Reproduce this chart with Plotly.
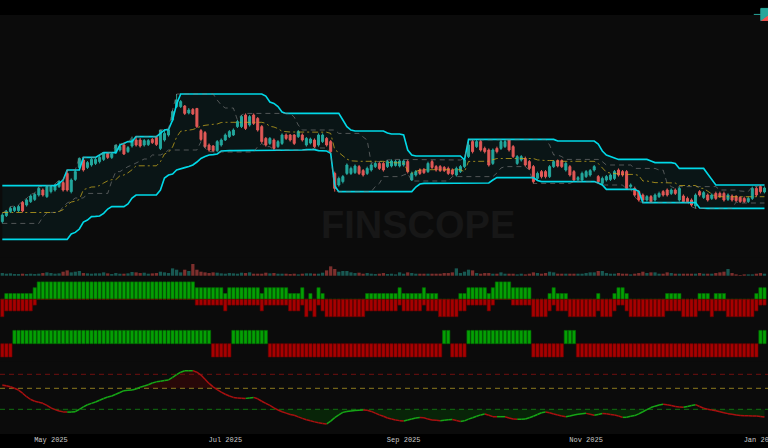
import pandas as pd
import plotly.graph_objects as go
from plotly.subplots import make_subplots

# ---------------- data ----------------
dates = [d.strftime("%Y-%m-%d") for d in pd.bdate_range("2025-04-15", periods=189)]

opens = [109.2,112.2,114.2,114.7,114.7,118.8,117.5,119.2,120.3,122.5,
         125.0,121.7,124.2,125.0,126.7,128.7,133.3,124.2,130.3,136.3,
         140.0,136.3,137.5,138.3,139.2,140.3,143.3,141.3,143.7,145.0,
         147.5,144.2,147.0,150.0,150.0,147.5,147.7,150.3,151.3,145.8,
         150.0,152.5,160.0,166.7,166.7,167.0,163.5,165.3,165.8,154.7,153.7,
         147.5,147.0,144.7,147.5,150.0,151.7,152.5,156.7,156.7,162.5,
         157.5,162.5,160.8,156.7,150.8,148.3,150.0,146.7,148.3,152.5,
         152.5,152.5,151.7,152.5,147.5,148.5,150.0,147.5,149.2,150.8,
         149.2,133.3,127.5,129.2,133.3,133.3,133.7,136.7,134.7,133.3,
         135.0,136.7,138.3,138.3,136.7,137.0,137.3,137.0,137.5,139.2,
         130.0,132.5,135.0,135.3,134.2,139.2,136.7,136.7,136.3,135.8,
         135.0,132.5,134.2,136.7,141.7,149.2,146.7,149.2,145.8,145.0,
         138.3,145.8,145.8,146.7,150.0,146.7,138.3,140.0,140.8,139.2,
         136.7,130.8,134.2,134.2,131.7,136.7,139.7,139.7,135.0,136.7,
         134.2,130.2,130.0,131.7,132.5,135.0,131.7,128.3,130.0,130.3,130.8,
         135.0,134.2,134.2,126.7,125.8,124.2,122.5,120.0,121.7,120.0,
         121.7,124.2,125.0,123.3,125.0,120.0,122.0,120.8,120.0,117.0,
         124.2,121.3,122.5,120.8,123.3,123.3,123.3,120.3,122.0,121.7,
         121.3,120.8,119.2,120.8,125.8,126.7,124.0]

closes = [112.5,114.2,115.8,116.2,116.7,114.5,120.0,122.0,122.8,125.8,
          122.5,126.7,126.7,127.5,129.2,125.0,125.0,130.0,134.2,140.8,
          135.0,138.7,140.3,140.3,141.3,143.7,141.3,143.0,147.5,146.7,
          143.0,146.2,150.0,147.5,147.0,149.7,149.7,148.7,147.8,155.0,
          153.3,155.0,164.2,170.0,169.2,163.3,165.0,163.0,156.7,150.3,146.7,
          145.0,144.7,149.2,150.0,152.5,154.2,155.0,159.2,161.7,155.8,
          161.7,158.3,155.0,149.2,147.5,150.8,145.8,149.2,152.5,150.8,
          150.0,148.3,154.2,150.0,150.8,150.5,146.7,152.5,152.5,147.5,
          144.2,125.8,130.8,131.7,137.5,135.8,137.0,133.3,132.5,135.8,
          137.5,138.3,135.8,135.0,139.2,139.5,139.3,139.5,139.5,134.2,
          133.3,134.2,133.3,133.7,138.3,136.3,135.0,134.7,134.7,133.3,
          133.0,135.8,136.7,140.0,147.5,144.2,149.2,145.0,144.2,137.5,
          145.0,144.2,149.2,149.2,145.0,141.7,141.7,141.7,137.5,135.8,
          129.2,133.3,131.7,131.7,136.7,139.2,137.0,136.7,138.3,132.5,
          130.0,131.2,133.3,134.2,134.7,136.7,129.2,130.8,131.7,132.5,134.2,
          132.5,132.5,125.8,127.5,122.5,120.0,120.0,121.7,119.2,122.5,
          123.3,122.5,122.5,125.0,123.3,125.8,119.2,119.2,117.5,122.5,
          122.5,123.7,120.0,122.5,120.8,121.7,120.0,122.5,120.0,119.7,
          119.2,119.2,120.8,125.8,122.5,124.2,126.0]

highs = [113.3,115.0,116.7,117.0,117.5,119.5,120.8,122.8,123.5,126.7,
         125.8,127.2,127.2,128.0,130.0,129.5,135.0,130.8,135.0,141.3,
         141.3,139.5,141.0,141.0,142.5,143.7,143.7,143.7,147.5,148.3,
         148.3,147.0,151.7,151.7,151.0,150.5,150.5,151.0,151.7,155.0,
         155.3,155.5,165.0,173.0,170.0,167.5,166.0,166.0,166.0,155.5,154.5,
         148.3,147.5,150.0,150.8,153.3,155.0,155.8,160.0,162.5,163.3,
         162.5,163.3,161.5,157.5,151.5,151.5,150.8,150.0,153.3,153.3,
         153.0,153.0,155.0,153.3,151.5,151.2,150.8,153.3,153.3,151.5,
         150.0,134.2,131.7,132.5,138.3,136.7,137.8,137.5,135.5,136.7,
         138.3,139.2,139.2,139.2,140.0,140.3,140.0,140.3,140.3,140.0,
         134.2,135.0,135.8,136.0,139.2,140.0,137.5,137.5,137.0,136.7,
         135.8,136.7,137.5,140.8,150.0,150.0,150.0,150.0,146.7,145.8,
         145.8,146.7,150.0,150.0,150.3,147.5,142.5,142.5,141.7,140.0,
         137.5,134.2,135.0,135.0,137.5,140.0,140.3,140.3,139.2,137.5,
         135.0,132.0,134.2,135.0,135.5,137.5,132.5,131.7,132.5,133.3,135.0,
         135.8,135.0,135.0,128.3,126.7,125.0,123.3,122.5,122.5,123.3,
         124.2,125.0,125.8,125.8,125.8,126.7,122.8,121.7,120.8,123.3,
         125.0,124.5,123.3,123.3,124.2,124.2,124.2,123.3,122.8,122.5,
         122.0,121.7,121.7,126.7,126.7,127.5,126.8]

lows = [108.3,111.5,113.5,114.0,114.0,113.8,116.7,118.5,119.5,121.7,
        121.7,121.0,123.3,124.2,126.0,124.2,124.2,123.3,129.5,135.5,
        134.2,135.5,136.7,137.5,138.3,139.5,140.5,140.5,143.0,144.2,
        142.5,143.5,146.2,146.7,146.2,146.7,147.0,148.0,147.0,145.0,
        149.2,151.7,159.2,166.0,166.0,162.5,162.8,162.5,156.0,149.5,146.0,
        144.2,144.0,144.0,146.7,149.5,151.0,152.0,156.0,156.0,155.0,
        156.7,157.5,154.2,148.3,146.7,147.5,145.0,146.0,147.5,150.0,
        149.2,147.5,151.0,149.2,146.7,147.8,146.0,146.7,148.5,146.7,
        143.5,124.2,126.7,128.3,132.5,132.5,133.0,132.5,131.7,132.5,
        134.2,136.0,135.0,134.2,136.0,136.3,136.7,136.3,136.7,133.3,
        129.5,131.7,132.5,133.0,133.5,135.5,134.2,134.0,134.0,132.5,
        132.3,131.7,133.5,136.0,141.0,143.3,146.0,144.2,143.3,136.7,
        137.5,143.3,145.0,146.0,144.2,141.0,137.5,139.2,136.7,135.0,
        128.3,130.0,130.8,130.8,131.0,136.0,136.3,136.0,134.2,131.7,
        129.2,129.5,129.2,131.0,131.7,134.2,128.3,127.5,129.2,129.5,130.0,
        131.7,131.7,125.3,125.8,121.7,119.2,118.8,119.2,118.7,119.2,
        121.0,121.7,121.7,122.5,122.5,119.2,118.7,118.7,116.7,115.8,
        121.7,120.5,119.2,120.0,120.0,121.0,119.2,119.5,119.2,119.0,
        118.5,118.5,118.5,120.0,121.7,123.3,123.3]

volumes = [8,6,7,5,5,6,5,6,5,6,
           8,10,8,6,7,12,16,10,12,14,
           8,7,6,7,7,10,7,5,8,6,
           6,7,11,10,8,9,6,7,8,12,
           10,8,22,18,10,18,14,35,18,12,10,
           8,10,9,7,6,8,7,6,9,8,
           10,6,6,6,9,7,8,6,6,6,
           5,6,4,6,7,7,6,6,9,16,
           28,20,12,14,14,10,8,9,6,8,
           6,5,6,8,5,6,4,10,6,10,
           8,6,6,6,6,6,6,6,8,8,
           10,22,8,12,18,16,8,6,8,8,
           6,6,10,6,6,6,4,6,4,6,
           10,8,6,8,12,10,6,6,6,6,
           6,6,6,8,10,10,14,14,8,6,6,
           8,6,6,4,6,8,12,8,10,10,
           6,6,10,8,6,6,6,6,6,6,
           8,6,6,6,8,10,12,20,8,4,
           2,4,4,4,6,8,6]

channel_upper = [127.2,127.2,127.2,127.2,127.2,127.2,127.2,127.2,127.2,127.2,
                 127.2,127.2,127.2,127.2,128.3,130.0,135.0,135.0,135.0,135.0,
                 141.3,141.3,141.3,141.3,142.5,143.7,143.7,143.7,143.7,147.5,
                 148.3,149.2,149.2,151.7,151.7,151.7,151.7,151.7,151.7,153.3,
                 155.0,155.3,160.0,168.0,173.0,173.0,173.0,173.0,173.0,173.0,173.0,
                 173.0,173.0,173.0,173.0,173.0,173.0,173.0,173.0,173.0,173.0,
                 173.0,173.0,173.0,173.0,172.0,169.0,168.3,166.7,164.0,163.3,
                 163.3,163.3,163.3,163.3,163.3,163.3,163.3,163.3,163.3,163.3,
                 163.3,163.3,163.3,160.0,156.7,155.0,154.5,154.5,154.5,154.5,
                 154.5,154.5,154.5,154.5,153.5,153.0,153.0,153.0,152.5,145.0,
                 142.5,142.0,142.0,142.0,142.0,142.0,142.0,142.0,142.0,142.0,
                 142.0,142.0,142.0,140.0,150.3,150.3,150.3,150.3,150.3,150.3,
                 150.3,150.3,150.3,150.3,150.3,150.3,150.3,150.3,150.3,150.3,
                 150.3,150.3,150.3,150.3,150.3,150.3,149.5,149.5,149.5,149.5,
                 149.5,149.5,149.5,149.5,149.5,149.5,148.0,144.5,142.5,141.7,141.0,
                 140.3,140.3,140.3,140.3,140.3,140.3,140.3,140.3,139.5,138.7,
                 138.7,138.7,138.7,138.7,138.3,135.8,135.8,135.8,135.8,135.8,
                 135.8,135.8,133.0,130.5,127.5,127.5,127.5,127.5,127.5,127.5,
                 127.5,127.5,127.5,127.5,127.5,127.5,127.5]

channel_lower = [100.3,100.3,100.3,100.3,100.3,100.3,100.3,100.3,100.3,100.3,
                 100.3,100.3,100.3,100.3,100.3,100.3,100.3,103.0,103.8,105.5,
                 109.0,110.0,111.7,111.8,112.0,113.3,115.5,116.7,116.7,116.7,
                 116.7,118.0,121.0,122.5,122.5,122.5,122.5,122.5,122.5,125.0,
                 131.0,132.5,133.0,135.0,135.8,136.2,136.8,137.5,139.0,140.8,141.7,
                 142.5,142.7,143.0,144.5,144.7,144.7,144.7,144.7,144.7,144.7,
                 144.7,144.7,144.7,144.7,144.7,144.7,144.7,144.7,144.7,144.7,
                 144.7,144.7,144.7,145.0,145.2,145.2,145.2,144.7,144.5,144.5,
                 143.3,127.0,124.2,124.2,124.2,124.2,124.2,124.2,124.2,124.2,
                 124.2,124.2,124.2,124.2,124.2,124.2,124.2,124.2,124.2,124.2,
                 124.2,126.5,128.0,128.3,128.3,128.3,128.3,128.3,128.3,128.3,
                 128.3,128.3,128.3,128.3,128.3,128.3,128.3,128.3,128.3,128.5,
                 130.0,131.2,131.2,131.2,131.2,131.2,131.2,131.2,131.2,131.2,
                 131.2,129.8,129.2,129.2,129.2,129.2,129.2,129.2,129.2,129.2,
                 129.2,129.2,129.2,129.2,129.2,129.2,128.5,127.5,125.3,125.3,125.3,
                 125.3,125.3,125.3,125.3,125.3,124.2,118.7,118.7,118.7,118.7,
                 118.7,118.7,118.7,118.7,118.7,118.7,118.7,118.7,118.7,118.7,
                 116.0,115.8,115.8,115.8,115.8,115.8,115.8,115.8,115.8,115.8,
                 115.8,115.8,115.8,115.8,115.8,115.8,115.8]

bull_count = [0,1,1,1,1,1,1,1,2,3,
              3,3,3,3,3,3,3,3,3,3,
              3,3,3,3,3,3,3,3,3,3,
              3,3,3,3,3,3,3,3,3,3,
              3,3,3,3,3,3,3,3,2,2,2,
              2,2,2,2,1,2,2,2,2,2,
              2,2,2,1,2,2,2,2,2,2,
              1,1,1,2,0,1,0,2,1,0,
              0,0,0,0,0,0,0,0,0,1,
              1,1,1,1,1,1,1,2,1,1,
              1,1,1,2,1,1,1,0,0,0,
              0,0,1,1,2,2,2,2,2,1,
              2,3,3,3,3,2,2,2,2,2,
              0,0,0,0,1,2,1,1,1,0,
              0,0,0,0,0,0,1,0,0,0,1,
              2,2,1,0,0,0,0,0,0,0,
              0,0,1,1,1,1,0,0,0,0,
              1,1,1,0,1,1,1,0,0,0,
              0,0,0,0,1,2,2]

trend_state = [-1,-1,-1,1,1,1,1,1,1,1,
               1,1,1,1,1,1,1,1,1,1,
               1,1,1,1,1,1,1,1,1,1,
               1,1,1,1,1,1,1,1,1,1,
               1,1,1,1,1,1,1,1,1,1,1,
               1,-1,-1,-1,-1,-1,1,1,1,1,
               1,1,1,1,1,-1,-1,-1,-1,-1,
               -1,-1,-1,-1,-1,-1,-1,-1,-1,-1,
               -1,-1,-1,-1,-1,-1,-1,-1,-1,-1,
               -1,-1,-1,-1,-1,-1,-1,-1,-1,-1,
               -1,-1,-1,-1,-1,-1,-1,-1,1,1,
               -1,-1,-1,-1,1,1,1,1,1,1,
               1,1,1,1,1,1,1,1,1,1,
               -1,-1,-1,-1,-1,-1,-1,-1,1,1,
               1,-1,-1,-1,-1,-1,-1,-1,-1,-1,-1,
               -1,-1,-1,-1,-1,-1,-1,-1,-1,-1,
               -1,-1,-1,-1,-1,-1,-1,-1,-1,-1,
               -1,-1,-1,-1,-1,-1,-1,-1,-1,-1,
               -1,-1,-1,-1,-1,1,1]

oscillator = [64.7,63.5,62.3,60.0,57.5,53.0,48.0,44.0,41.5,40.0,
              38.5,35.5,32.0,29.5,27.5,26.3,26.0,26.0,26.6,30.0,
              33.5,36.5,38.5,40.5,43.0,45.5,47.5,49.0,51.5,54.0,
              56.6,57.2,57.5,59.0,61.5,63.3,65.0,67.5,69.2,70.0,
              71.0,72.0,75.5,79.5,83.0,85.0,85.1,85.2,83.0,79.0,73.0,
              67.0,62.0,58.0,54.5,51.5,49.0,47.0,46.2,45.8,45.6,
              46.3,47.0,45.0,41.5,38.5,35.5,32.0,29.0,26.5,24.5,
              22.5,21.4,19.2,17.0,15.0,13.5,12.0,10.8,9.8,9.0,
              13.0,18.0,22.0,25.6,26.8,27.5,28.2,28.8,29.0,28.5,
              27.0,24.5,22.0,20.0,17.5,16.0,14.8,13.8,13.3,14.8,
              16.2,17.5,18.3,18.0,16.0,14.8,14.2,13.8,14.2,15.0,
              15.5,14.0,12.5,13.5,16.0,18.0,20.0,22.0,23.3,21.5,
              19.5,19.4,19.4,19.4,17.5,16.0,15.6,15.8,16.1,18.0,
              20.0,22.5,25.0,26.1,25.0,23.3,22.0,20.5,19.5,20.5,
              22.0,22.8,23.5,24.2,23.0,21.5,22.5,24.0,23.5,22.5,21.8,
              20.5,18.5,18.5,20.0,21.0,23.5,26.5,29.5,32.5,34.5,
              36.0,37.1,36.5,35.3,34.0,33.4,33.0,34.0,35.3,36.6,
              34.0,31.5,30.2,29.0,27.8,26.5,25.0,23.8,22.8,22.0,
              21.3,20.9,20.7,20.5,20.4,19.8,19.0]

osc_levels = [80, 60, 30]
x_range = ["2025-04-14 10:20", "2026-01-02 20:50"]

# ---------------- figure ----------------
UP, DN = "#26a69a", "#ef5350"
n = len(dates)
fig = make_subplots(rows=5, cols=1, shared_xaxes=True, vertical_spacing=0)

# channel (filled)
fig.add_trace(go.Scatter(x=dates, y=channel_lower, mode="lines",
                         line=dict(color="#00d9e8", width=1.6),
                         showlegend=False, hoverinfo="skip"), 1, 1)
fig.add_trace(go.Scatter(x=dates, y=channel_upper, mode="lines",
                         line=dict(color="#00d9e8", width=1.6),
                         fill="tonexty", fillcolor="rgba(0,200,220,0.055)",
                         showlegend=False, hoverinfo="skip"), 1, 1)
# inner (10-bar) range, dashed grey
inner_hi = pd.Series(highs).rolling(10, min_periods=1).max().tolist()
inner_lo = pd.Series(lows).rolling(10, min_periods=1).min().tolist()
for ser in (inner_hi, inner_lo):
    fig.add_trace(go.Scatter(x=dates, y=ser, mode="lines",
                             line=dict(color="rgba(130,130,130,0.6)", width=1, dash="5px,4px"),
                             showlegend=False, hoverinfo="skip"), 1, 1)
# midline
mid = [(u + l) / 2 for u, l in zip(channel_upper, channel_lower)]
fig.add_trace(go.Scatter(x=dates, y=mid, mode="lines",
                         line=dict(color="rgba(200,170,30,0.75)", width=1, dash="6px,3px,2px,3px"),
                         showlegend=False, hoverinfo="skip"), 1, 1)
# candles
fig.add_trace(go.Candlestick(x=dates, open=opens, high=highs, low=lows, close=closes,
                             name="OHLC",
                             increasing=dict(line=dict(color=UP, width=1), fillcolor=UP),
                             decreasing=dict(line=dict(color=DN, width=1), fillcolor=DN),
                             showlegend=True), 1, 1)

# volume
vol_colors = ["rgba(38,166,154,0.5)" if c >= o else "rgba(239,83,80,0.5)"
              for o, c in zip(opens, closes)]
fig.add_trace(go.Bar(x=dates, y=volumes, marker=dict(color=vol_colors, line=dict(width=0)),
                     showlegend=False, hoverinfo="skip"), 2, 1)

# signal count histogram
bear_count = [3 - b for b in bull_count]
fig.add_trace(go.Bar(x=dates, y=bull_count,
                     marker=dict(color="#04a004", line=dict(color="#036b03", width=0.6)),
                     showlegend=False, hoverinfo="skip"), 3, 1)
fig.add_trace(go.Bar(x=dates, y=[-b for b in bear_count],
                     marker=dict(color="#a80000", line=dict(color="#6e0000", width=0.6)),
                     showlegend=False, hoverinfo="skip"), 3, 1)

# trend state
fig.add_trace(go.Bar(x=dates, y=trend_state,
                     marker=dict(color=["#04a004" if t > 0 else "#a80000" for t in trend_state],
                                 line=dict(color=["#036b03" if t > 0 else "#6e0000" for t in trend_state],
                                           width=0.6)),
                     showlegend=False, hoverinfo="skip"), 4, 1)

# oscillator fills
hi_lvl, mid_lvl, lo_lvl = osc_levels
fig.add_trace(go.Scatter(x=dates, y=[mid_lvl] * n, mode="lines", line=dict(width=0),
                         showlegend=False, hoverinfo="skip"), 5, 1)
fig.add_trace(go.Scatter(x=dates, y=[max(v, mid_lvl) for v in oscillator], mode="lines",
                         line=dict(width=0), fill="tonexty", fillcolor="rgba(120,0,0,0.27)",
                         showlegend=False, hoverinfo="skip"), 5, 1)
fig.add_trace(go.Scatter(x=dates, y=[lo_lvl] * n, mode="lines", line=dict(width=0),
                         showlegend=False, hoverinfo="skip"), 5, 1)
fig.add_trace(go.Scatter(x=dates, y=[min(v, lo_lvl) for v in oscillator], mode="lines",
                         line=dict(width=0), fill="tonexty", fillcolor="rgba(0,110,0,0.25)",
                         showlegend=False, hoverinfo="skip"), 5, 1)
# level lines
for lvl, col in zip(osc_levels, ["#701010", "#8c7a1e", "#127012"]):
    fig.add_trace(go.Scatter(x=[x_range[0], x_range[1]], y=[lvl, lvl], mode="lines",
                             line=dict(color=col, width=1, dash="5px,4px"),
                             showlegend=False, hoverinfo="skip"), 5, 1)
# oscillator line coloured by direction
ux, uy, dx, dy = [], [], [], []
for i in range(n - 1):
    if oscillator[i + 1] >= oscillator[i]:
        ux += [dates[i], dates[i + 1], None]; uy += [oscillator[i], oscillator[i + 1], None]
    else:
        dx += [dates[i], dates[i + 1], None]; dy += [oscillator[i], oscillator[i + 1], None]
fig.add_trace(go.Scatter(x=ux, y=uy, mode="lines", line=dict(color="#16a616", width=1.5),
                         showlegend=False, hoverinfo="skip"), 5, 1)
fig.add_trace(go.Scatter(x=dx, y=dy, mode="lines", line=dict(color="#a81010", width=1.5),
                         showlegend=False, hoverinfo="skip"), 5, 1)

# axes
fig.update_xaxes(type="date", rangebreaks=[dict(bounds=["sat", "mon"])], range=x_range,
                 showgrid=False, zeroline=False, showline=False, showticklabels=False,
                 rangeslider_visible=False, ticks="")
fig.update_xaxes(row=5, col=1, showticklabels=True, tickformat="%b %Y", dtick="M2",
                 tick0="2025-01-01", ticklabeloverflow="allow",
                 tickfont=dict(family="Liberation Mono", size=7, color="#c8c8c8"))
fig.update_yaxes(showgrid=False, zeroline=False, showticklabels=False, showline=False, ticks="")

fig.update_layout(
    width=768, height=448,
    margin=dict(l=0, r=0, t=15, b=14, autoexpand=False),
    paper_bgcolor="#000000", plot_bgcolor="#0b0b0b",
    barmode="overlay", bargap=0.2,
    yaxis=dict(domain=[0.4224, 1.0], range=[91.5, 212.5]),
    yaxis2=dict(domain=[0.3747, 0.4224], range=[-3.9, 56]),
    yaxis3=dict(domain=[0.2673, 0.3747], range=[-3.91, 3.84]),
    yaxis4=dict(domain=[0.1742, 0.2673], range=[-1.30, 1.63]),
    yaxis5=dict(domain=[0.0, 0.1742], range=[-5.3, 99]),
    legend=dict(x=0.975, xanchor="left", y=1.036, yanchor="top", orientation="h",
                bgcolor="rgba(0,0,0,0)", font=dict(color="#cccccc", size=8)),
    annotations=[dict(text="FINSCOPE", xref="paper", yref="paper", x=0.5443, y=0.4988,
                      showarrow=False,
                      font=dict(family="Liberation Sans", size=38, color="#171717", weight="bold"))],
)

fig.write_html("out.html", config={"displayModeBar": False},
               post_script="document.body.style.margin='0';document.body.style.overflow='hidden';")
